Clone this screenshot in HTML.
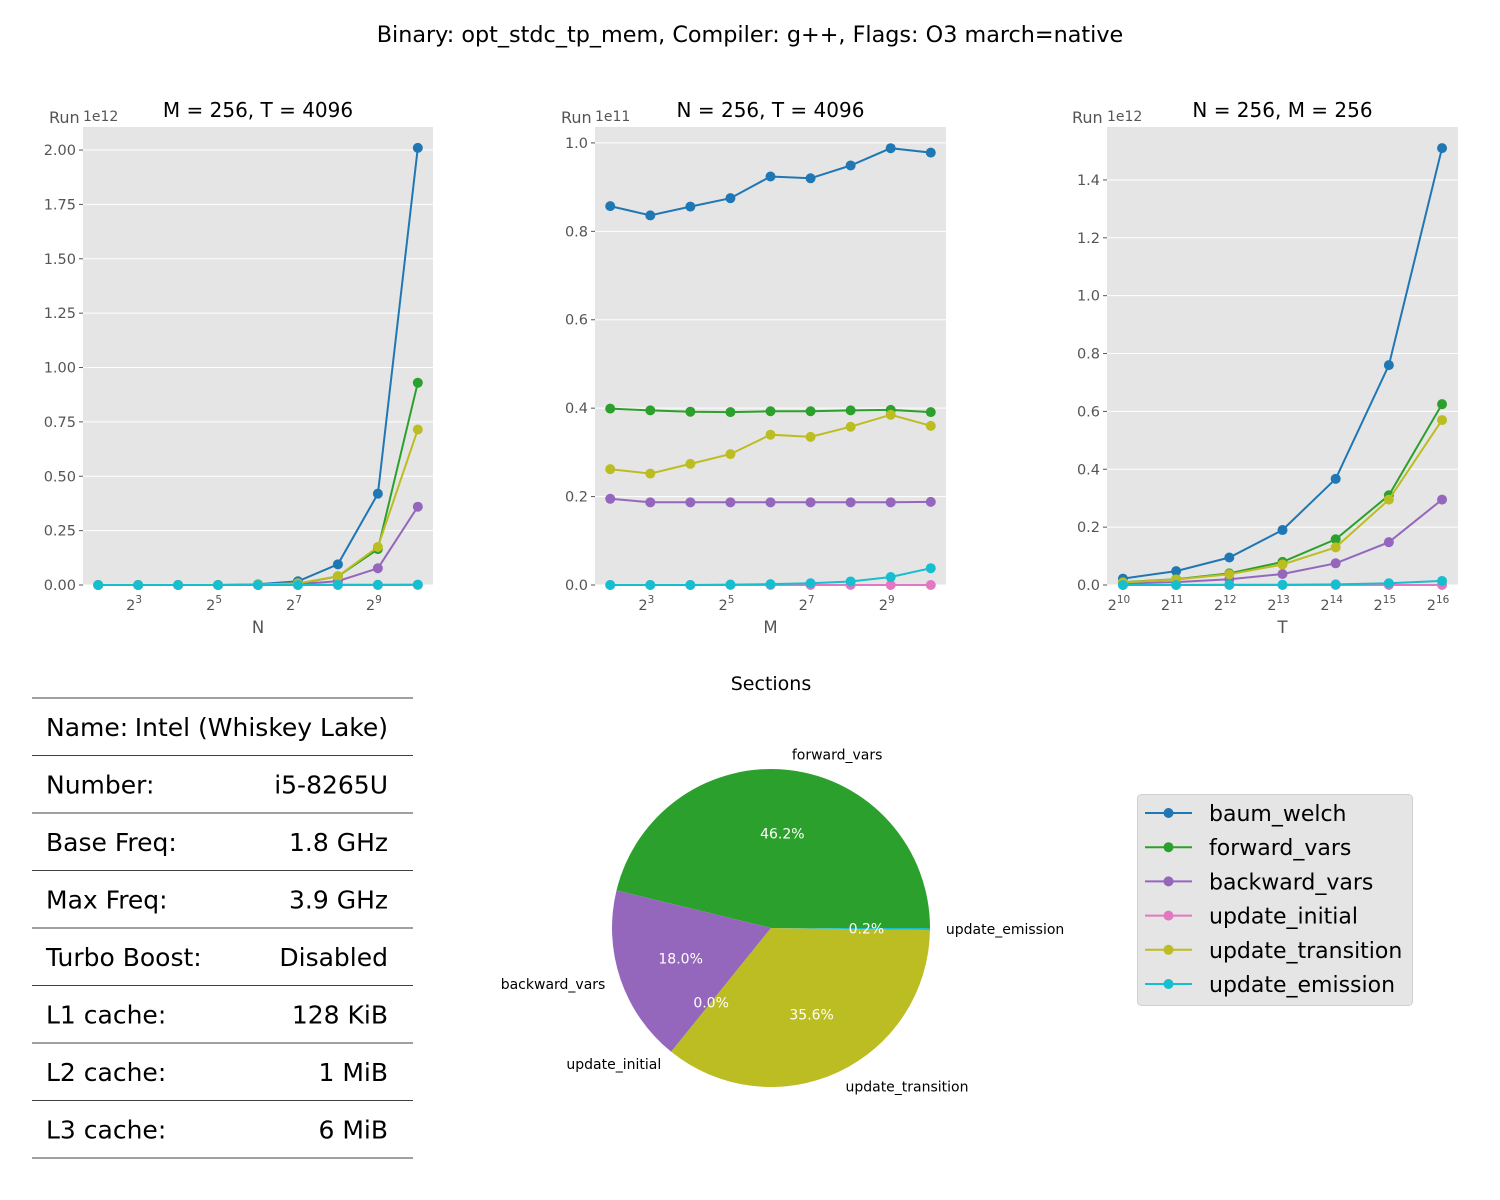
<!DOCTYPE html>
<html><head><meta charset="utf-8"><style>
html,body{margin:0;padding:0;background:#fff;}
svg{display:block;font-family:"DejaVu Sans","Liberation Sans",sans-serif;}
</style></head><body>
<svg id="fig" width="1500" height="1200" viewBox="0 0 1500 1200">
<text x="750" y="42" font-size="22.3" text-anchor="middle" fill="#000">Binary: opt_stdc_tp_mem, Compiler: g++, Flags: O3 march=native</text>
<g id="charts"></g>
<g id="table"></g>
<g id="pie"></g>
<g id="legend"></g>
</svg>
<script>
const seriesNames = ["baum_welch","forward_vars","backward_vars","update_initial","update_transition","update_emission"];
const seriesColors = ["#1f77b4","#2ca02c","#9467bd","#e377c2","#bcbd22","#17becf"];
// Chart 1: vary N (log2 exponents), values in 1e12
const c1Exp = [2,3,4,5,6,7,8,9,10];
const c1Baum = [0,0,0,0,0.003,0.017,0.095,0.42,2.01];
const c1Fwd = [0,0,0,0,0.001,0.006,0.04,0.165,0.93];
const c1Bwd = [0,0,0,0,0,0.003,0.018,0.077,0.36];
const c1Init = [0,0,0,0,0,0,0,0,0];
const c1Trans = [0,0,0,0,0.002,0.008,0.04,0.175,0.715];
const c1Emis = [0,0,0,0,0,0,0.001,0.001,0.002];
const c1Ticks = [0,0.25,0.5,0.75,1.0,1.25,1.5,1.75,2.0];
const c1TickLabels = ["0.00","0.25","0.50","0.75","1.00","1.25","1.50","1.75","2.00"];
const c1XTicks = [3,5,7,9];
// Chart 2: vary M, values in 1e11
const c2Exp = [2,3,4,5,6,7,8,9,10];
const c2Baum = [0.857,0.836,0.856,0.875,0.924,0.92,0.949,0.988,0.978];
const c2Fwd = [0.399,0.395,0.392,0.391,0.393,0.393,0.395,0.396,0.391];
const c2Bwd = [0.195,0.187,0.187,0.187,0.187,0.187,0.187,0.187,0.188];
const c2Init = [0,0,0,0,0,0,0,0,0];
const c2Trans = [0.262,0.252,0.274,0.296,0.340,0.335,0.358,0.385,0.360];
const c2Emis = [0,0,0,0.001,0.002,0.004,0.008,0.018,0.038];
const c2Ticks = [0,0.2,0.4,0.6,0.8,1.0];
const c2TickLabels = ["0.0","0.2","0.4","0.6","0.8","1.0"];
const c2XTicks = [3,5,7,9];
// Chart 3: vary T, values in 1e12
const c3Exp = [10,11,12,13,14,15,16];
const c3Baum = [0.022,0.048,0.095,0.19,0.367,0.76,1.51];
const c3Fwd = [0.01,0.02,0.04,0.08,0.158,0.31,0.625];
const c3Bwd = [0.005,0.01,0.02,0.038,0.075,0.148,0.295];
const c3Init = [0,0,0,0,0,0,0];
const c3Trans = [0.009,0.019,0.037,0.071,0.13,0.295,0.57];
const c3Emis = [0,0,0.001,0.001,0.002,0.006,0.014];
const c3Ticks = [0,0.2,0.4,0.6,0.8,1.0,1.2,1.4];
const c3TickLabels = ["0.0","0.2","0.4","0.6","0.8","1.0","1.2","1.4"];
const c3XTicks = [10,11,12,13,14,15,16];
// Pie
const pieLabels = ["forward_vars","backward_vars","update_initial","update_transition","update_emission"];
const pieValues = [46.2,18.0,0.0,35.6,0.2];
const pieColors = ["#2ca02c","#9467bd","#e377c2","#bcbd22","#17becf"];
// Table
const tableKeys = ["Name:","Number:","Base Freq:","Max Freq:","Turbo Boost:","L1 cache:","L2 cache:","L3 cache:"];
const tableVals = ["Intel (Whiskey Lake)","i5-8265U","1.8 GHz","3.9 GHz","Disabled","128 KiB","1 MiB","6 MiB"];

const NS="http://www.w3.org/2000/svg";
function mk(tag,attrs,parent,text){const e=document.createElementNS(NS,tag);for(const k in attrs)e.setAttribute(k,attrs[k]);if(text!==undefined)e.textContent=text;parent.appendChild(e);return e;}

function chart(cfg){
  const g=mk("g",{},document.getElementById("charts"));
  
  
  const {L,R,T,B,xmin,xmax,ymax}=cfg;
  const xs=v=>L+(v-xmin)/(xmax-xmin)*(R-L);
  const ys=v=>B-v/ymax*(B-T);
  mk("rect",{x:L,y:T,width:R-L,height:B-T,fill:"#e5e5e5"},g);
  cfg.yticks.forEach((t,i)=>{
    const y=ys(t);
    mk("line",{x1:L,x2:R,y1:y,y2:y,stroke:"#fff","stroke-width":1},g);
    mk("line",{x1:L-4,x2:L,y1:y,y2:y,stroke:"#555","stroke-width":1},g);
    const tl=mk("text",{x:L-7,y:y+5,"font-size":14.5,fill:"#555","text-anchor":"end"},g,cfg.ylabels[i]);
    
    
  });
  cfg.xticks.forEach(t=>{
    const x=xs(t);
    mk("line",{x1:x,x2:x,y1:B,y2:B+4,stroke:"#555","stroke-width":1},g);
    const tx=mk("text",{x:x-4,y:B+25,"font-size":14.5,fill:"#555","text-anchor":"middle"},g);
    
    
    mk("tspan",{},tx,"2");
    mk("tspan",{dy:-7,"font-size":10.5},tx,String(t));
  });
  const xl=mk("text",{x:(L+R)/2,y:B+48,"font-size":16.5,fill:"#555","text-anchor":"middle"},g,cfg.xlabel);
  
  
  const rl=mk("text",{x:L-(cfg.runOff),y:T-4,"font-size":16,fill:"#555"},g,"Run");
  
  
  const ex=mk("text",{x:L,y:T-6,"font-size":14,fill:"#555"},g,cfg.exp);
  
  
  const ti=mk("text",{x:(L+R)/2,y:T-10,"font-size":20,fill:"#000","text-anchor":"middle"},g,cfg.title);
  
  
  cfg.series.forEach((vals,si)=>{
    const sg=mk("g",{},g);
    
    
    const pts=vals.map((v,i)=>xs(cfg.xv[i]).toFixed(1)+","+ys(v).toFixed(1)).join(" ");
    mk("polyline",{points:pts,fill:"none",stroke:seriesColors[si],"stroke-width":2},sg);
    vals.forEach((v,i)=>{
      const c=mk("circle",{cx:xs(cfg.xv[i]),cy:ys(v),r:5,fill:seriesColors[si]},sg);
      
      
    });
  });
}
chart({name:"chart-vary-n",L:83,R:433,T:127,B:585,xmin:1.62,xmax:10.38,ymax:2.106,xv:c1Exp,
  series:[c1Baum,c1Fwd,c1Bwd,c1Init,c1Trans,c1Emis],yticks:c1Ticks,ylabels:c1TickLabels,xticks:c1XTicks,
  xlabel:"N",title:"M = 256, T = 4096",exp:"1e12",runOff:34});
chart({name:"chart-vary-m",L:595,R:946,T:127,B:585,xmin:1.62,xmax:10.38,ymax:1.036,xv:c2Exp,
  series:[c2Baum,c2Fwd,c2Bwd,c2Init,c2Trans,c2Emis],yticks:c2Ticks,ylabels:c2TickLabels,xticks:c2XTicks,
  xlabel:"M",title:"N = 256, T = 4096",exp:"1e11",runOff:34});
chart({name:"chart-vary-t",L:1107,R:1458,T:127,B:585,xmin:9.7,xmax:16.3,ymax:1.583,xv:c3Exp,
  series:[c3Baum,c3Fwd,c3Bwd,c3Init,c3Trans,c3Emis],yticks:c3Ticks,ylabels:c3TickLabels,xticks:c3XTicks,
  xlabel:"T",title:"N = 256, M = 256",exp:"1e12",runOff:35});

// Table
(function(){
  const g=document.getElementById("table");
  const y0=698,h=57.5;
  for(let i=0;i<=tableKeys.length;i++){
    mk("line",{x1:32,x2:413,y1:y0+i*h,y2:y0+i*h,stroke:"#000","stroke-width":0.8},g);
  }
  tableKeys.forEach((k,i)=>{
    const y=y0+i*h+h/2+9;
    const kt=mk("text",{x:46,y:y,"font-size":25,fill:"#000"},g,k);
    
    
    const vt=mk("text",{x:388,y:y,"font-size":25,fill:"#000","text-anchor":"end"},g,tableVals[i]);
    
    
  });
})();

// Pie
(function(){
  const g=document.getElementById("pie");
  const cx=771,cy=928,r=159;
  const t=mk("text",{x:cx,y:690,"font-size":19,"text-anchor":"middle",fill:"#000"},g,"Sections");
  
  
  const total=pieValues.reduce((a,b)=>a+b,0);
  let a0=0;
  const pct=[];
  pieValues.forEach((v,i)=>{
    const da=v/total*2*Math.PI, a1=a0+da;
    const p=(a)=>[cx+r*Math.cos(a),cy-r*Math.sin(a)];
    const [x0,y0]=p(a0),[x1,y1]=p(a1);
    if(da>0){
      const s=mk("path",{d:`M${cx},${cy} L${x0},${y0} A${r},${r} 0 ${da>Math.PI?1:0} 0 ${x1},${y1} Z`,fill:pieColors[i]},g);
      
      
    }
    const am=(a0+a1)/2;
    const lx=cx+1.1*r*Math.cos(am), ly=cy-1.1*r*Math.sin(am);
    const anchor=Math.cos(am)>=0?"start":"end";
    const lt=mk("text",{x:lx,y:ly+5,"font-size":14,"text-anchor":anchor,fill:"#000"},g,pieLabels[i]);
    
    
    pct.push([cx+0.6*r*Math.cos(am), cy-0.6*r*Math.sin(am), v]);
    a0=a1;
  });
  pct.forEach(([px,py,v])=>{
    const pt=mk("text",{x:px,y:py+5,"font-size":14,"text-anchor":"middle",fill:"#fff"},g,v.toFixed(1)+"%");
    
    
  });
})();

// Legend
(function(){
  const g=document.getElementById("legend");
  mk("rect",{x:1137.5,y:794.5,width:275,height:211,rx:4,fill:"#e5e5e5",stroke:"#d0d0d0","stroke-width":1},g);
  seriesNames.forEach((n,i)=>{
    const y=813+i*34.2;
    const eg=mk("g",{},g);
    
    
    mk("line",{x1:1145,x2:1192,y1:y,y2:y,stroke:seriesColors[i],"stroke-width":2},eg);
    mk("circle",{cx:1168.5,cy:y,r:5,fill:seriesColors[i]},eg);
    mk("text",{x:1209,y:y+8,"font-size":22,fill:"#000"},eg,n);
  });
})();
</script>
</body></html>
